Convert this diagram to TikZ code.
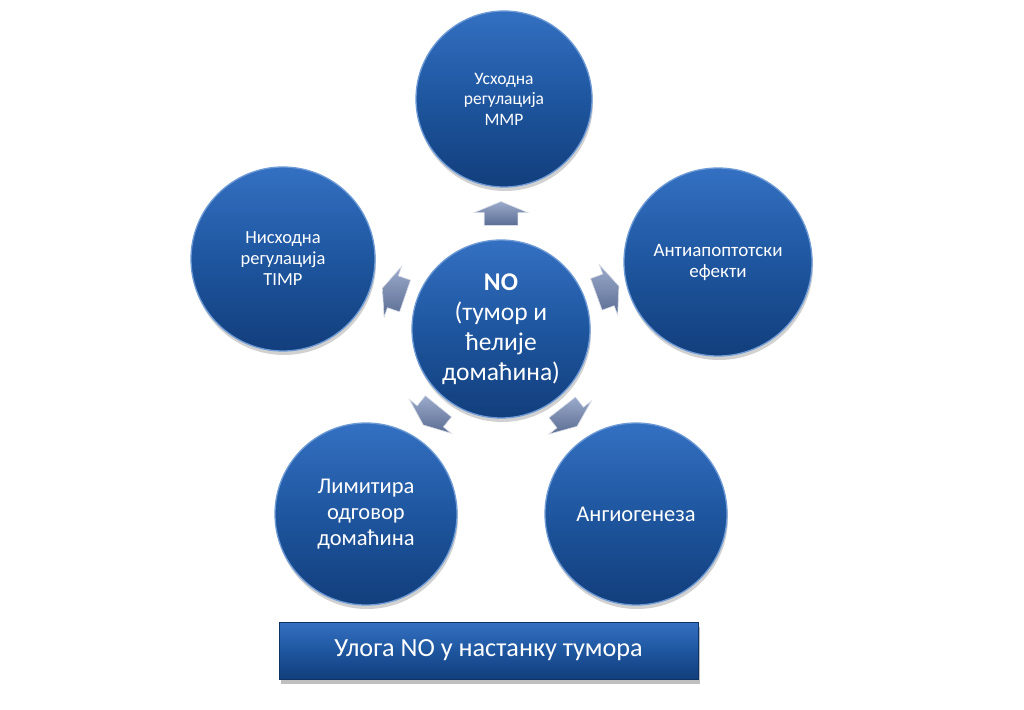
\documentclass[tikz,border=0pt]{standalone}
\usepackage{fontspec}
\setmainfont{Carlito}
\usetikzlibrary{shapes.arrows,shadows,calc}
\definecolor{ctop}{HTML}{3470C2}
\definecolor{cmid}{HTML}{1E569F}
\definecolor{cbot}{HTML}{123E7C}
\definecolor{crim}{HTML}{6E9BD6}
\definecolor{atop}{HTML}{9AAACB}
\definecolor{abot}{HTML}{5B6D93}
\begin{document}
\begin{tikzpicture}[x=1pt,y=1pt,
  bubble/.style={circle, minimum size=#1, inner sep=0pt,
    top color=ctop, bottom color=cbot, middle color=cmid,
    draw=crim, line width=1.3pt, text=white, align=center,
    drop shadow={shadow xshift=1pt, shadow yshift=-4pt, opacity=0.18, fill=black}},
  topfont/.style={font=\fontsize{17.5}{20.5}\selectfont},
  ulfont/.style={font=\fontsize{18.5}{21}\selectfont},
  urfont/.style={font=\fontsize{19}{21}\selectfont},
  mid/.style={font=\fontsize{22.5}{26}\selectfont},
  big/.style={font=\fontsize{25.5}{30}\selectfont},
  blockarrow/.style={single arrow, single arrow head extend=10pt,
    single arrow tip angle=135, minimum height=24pt,
    inner xsep=0pt, inner ysep=16.5pt, top color=atop, bottom color=abot,
    draw=white!75!abot, line width=0.6pt},
  banner/.style={rectangle, minimum width=419pt, minimum height=57pt,
    inner sep=0pt, top color=ctop, bottom color=cbot, middle color=cmid,
    draw=cbot!80!black, line width=0.8pt, text=white,
    font=\fontsize{26.2}{32}\selectfont,
    drop shadow={shadow xshift=2pt, shadow yshift=-5pt, opacity=0.25, fill=black}}]
\useasboundingbox[fill=white] (0,0) rectangle (1024,-709);

\node[bubble=178pt, big] (c) at (501,-329) {\bfseries NO\\(тумор и\\ћелије\\домаћина)};
\node[bubble=176pt, topfont] (t) at (504,-99) {Усходна\\регулација\\MMP};
\node[bubble=184pt, ulfont] (ul) at (283,-259) {Нисходна\\регулација\\TIMP};
\node[bubble=188pt, urfont] (ur) at (718,-262) {Антиапоптотски\\ефекти};
\node[bubble=182pt, mid] (ll) at (366,-514) {Лимитира\\одговор\\домаћина};
\node[bubble=182pt, mid] (lr) at (636,-514) {Ангиогенеза};

\node[blockarrow, rotate=90] (a1) at ($(c)+(90:112)$) {};
\node[blockarrow, rotate=161] (a2) at ($(c)+(161:110)$) {};
\node[blockarrow, rotate=20] (a3) at ($(c)+(20:110)$) {};
\node[blockarrow, rotate=231] (a4) at ($(c)+(231:108)$) {};
\node[blockarrow, rotate=308] (a5) at ($(c)+(308:108)$) {};

\node[banner] (b) at (488.5,-650.5) {Улога NO у настанку тумора};
\end{tikzpicture}
\end{document}
